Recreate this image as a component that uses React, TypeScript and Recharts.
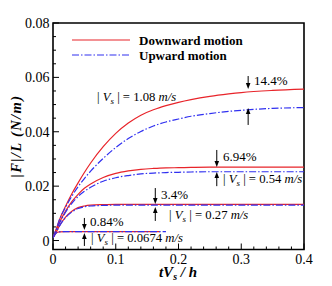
import React from "react";
import { LineChart, Line, XAxis, YAxis, ReferenceArea, ReferenceLine, ReferenceDot, Legend } from "recharts";

// ---- data ----
const tValues = [0, 0.005, 0.01, 0.02, 0.03, 0.04, 0.05, 0.06, 0.08, 0.1, 0.12, 0.14, 0.16, 0.17, 0.18, 0.2, 0.22, 0.25, 0.28, 0.3, 0.35, 0.4];
const down108 = [0.001, 0.004, 0.0075, 0.0126, 0.0172, 0.0212, 0.025, 0.0285, 0.0345, 0.0394, 0.0432, 0.0461, 0.0481, 0.0489, 0.0496, 0.0508, 0.0518, 0.053, 0.0539, 0.0544, 0.0552, 0.0557];
const up108 = [0.001, 0.004, 0.0075, 0.0122, 0.0163, 0.0198, 0.0228, 0.0255, 0.0302, 0.0342, 0.0375, 0.0401, 0.0421, 0.0429, 0.0436, 0.0447, 0.0457, 0.0467, 0.0475, 0.0479, 0.0486, 0.0489];
const down054 = [0.001, 0.004, 0.0065, 0.0108, 0.0143, 0.017, 0.0192, 0.0208, 0.0232, 0.0247, 0.0256, 0.0262, 0.0265, 0.0266, 0.0267, 0.0268, 0.0269, 0.027, 0.027, 0.027, 0.027, 0.027];
const up054 = [0.001, 0.004, 0.0063, 0.0104, 0.0137, 0.0162, 0.0181, 0.0196, 0.0218, 0.0231, 0.0239, 0.0245, 0.0248, 0.0249, 0.025, 0.0251, 0.0252, 0.0253, 0.0253, 0.0253, 0.0253, 0.0253];
const down027 = [0.001, 0.003, 0.0053, 0.0086, 0.0108, 0.0121, 0.0127, 0.013, 0.0132, 0.0133, 0.0133, 0.0133, 0.0133, 0.0133, 0.0133, 0.0133, 0.0133, 0.0133, 0.0133, 0.0133, 0.0133, 0.0133];
const up027 = [0.001, 0.003, 0.0052, 0.0084, 0.0105, 0.0118, 0.0124, 0.0127, 0.0129, 0.013, 0.013, 0.013, 0.013, 0.013, 0.013, 0.013, 0.013, 0.013, 0.013, 0.013, 0.013, 0.013];
const down0674 = [0.001, 0.0028, 0.0032, 0.0033, 0.0033, 0.0033, 0.0033, 0.0033, 0.0033, 0.0033, 0.0033, 0.0033, 0.0033, 0.0033, null, null, null, null, null, null, null, null];
const up0674 = [0.001, 0.0028, 0.0032, 0.0033, 0.0033, 0.0033, 0.0033, 0.0033, 0.0033, 0.0033, 0.0033, 0.0033, 0.0033, 0.0033, 0.0033, null, null, null, null, null, null, null];

const xMajorTicks = [0, 0.1, 0.2, 0.3, 0.4];
const xTickLabels = ["0", "0.1", "0.2", "0.3", "0.4"];
const xMinorTicks = [0.02, 0.04, 0.06, 0.08, 0.12, 0.14, 0.16, 0.18, 0.22, 0.24, 0.26, 0.28, 0.32, 0.34, 0.36, 0.38];
const yMajorTicks = [0, 0.02, 0.04, 0.06, 0.08];
const yTickLabels = ["0", "0.02", "0.04", "0.06", "0.08"];
const yMinorTicks = [0.005, 0.01, 0.015, 0.025, 0.03, 0.035, 0.045, 0.05, 0.055, 0.065, 0.07, 0.075];

const seriesNames = ["Downward motion", "Upward motion"];
const speedLabels = ["1.08", "0.54", "0.27", "0.0674"];
const percentLabels = ["14.4%", "6.94%", "3.4%", "0.84%"];

// annotation anchors (data coordinates)
const arrowT = [0.311, 0.261, 0.163, 0.05];
const arrowUpperTail = [0.0605, 0.0333, 0.0193, 0.0083];
const arrowUpperTip = [0.0557, 0.027, 0.0134, 0.0039];
const arrowLowerTail = [0.0425, 0.02, 0.0072, -0.002];
const arrowLowerTip = [0.0487, 0.0252, 0.0123, 0.0028];
const percentPos = [
  { t: 0.3203, v: 0.0572 },
  { t: 0.2709, v: 0.0292 },
  { t: 0.172, v: 0.0153 },
  { t: 0.059, v: 0.0053 },
];
const speedPos = [
  { t: 0.0701, v: 0.0513 },
  { t: 0.2709, v: 0.0211 },
  { t: 0.185, v: 0.0079 },
  { t: 0.0606, v: -0.0006 },
];

const table = tValues.map((t, i) => ({
  t,
  d108: down108[i],
  u108: up108[i],
  d054: down054[i],
  u054: up054[i],
  d027: down027[i],
  u027: up027[i],
  d0674: down0674[i],
  u0674: up0674[i],
}));

const RED = "#e8242a";
const BLUE = "#3030f0";
const DASH = "7 2 1.5 2";
const FONT = '"Liberation Serif", "Times New Roman", "DejaVu Serif", serif';
const serif = (extra: any = {}) => ({ fontFamily: FONT, ...extra });

const near = (a: number, b: number) => Math.abs(a - b) < 1e-9;

const XTick = (props: any) => {
  const { x, y, payload } = props;
  const idx = xMajorTicks.findIndex((m) => near(m, payload.value));
  const major = idx >= 0;
  return (
    <g>
      <line x1={x} x2={x} y1={y} y2={y - (major ? 6 : 3)} stroke="#000" strokeWidth={1} />
      {major && (
        <text x={x} y={y + 14} textAnchor="middle" style={serif({ fontSize: 14 })} fill="#000">
          {xTickLabels[idx]}
        </text>
      )}
    </g>
  );
};

const YTick = (props: any) => {
  const { x, y, payload } = props;
  const idx = yMajorTicks.findIndex((m) => near(m, payload.value));
  const major = idx >= 0;
  return (
    <g>
      <line x1={x} x2={x + (major ? 6 : 3)} y1={y} y2={y} stroke="#000" strokeWidth={1} />
      {major && (
        <text x={x - 3.5} y={y + 5} textAnchor="end" style={serif({ fontSize: 14 })} fill="#000">
          {yTickLabels[idx]}
        </text>
      )}
    </g>
  );
};

const ArrowShape = (p: any) => {
  const { x1, y1, x2, y2 } = p;
  const dir = y2 > y1 ? 1 : -1;
  const head = 6;
  const half = 2.3;
  return (
    <g>
      <line x1={x1} y1={y1} x2={x2} y2={y2 - dir * head * 0.6} stroke="#000" strokeWidth={1} />
      <polygon points={`${x2},${y2} ${x2 - half},${y2 - dir * head} ${x2 + half},${y2 - dir * head}`} fill="#000" />
    </g>
  );
};

const PercentText = (text: string) => (p: any) => (
  <text x={p.cx} y={p.cy} style={serif({ fontSize: 13 })} fill="#000">
    {text}
  </text>
);

const SpeedText = (value: string) => (p: any) => (
  <text x={p.cx} y={p.cy} style={serif({ fontSize: 12.7 })} fill="#000">
    <tspan>| </tspan>
    <tspan fontStyle="italic">V</tspan>
    <tspan fontStyle="italic" fontSize={9} dy={3}>s</tspan>
    <tspan dy={-3}> | = {value} </tspan>
    <tspan fontStyle="italic">m/s</tspan>
  </text>
);

const LegendContent = () => (
  <svg width={200} height={34} style={{ display: "block" }}>
    <line x1={0} x2={58} y1={8} y2={8} stroke={RED} strokeWidth={1.2} />
    <text x={67} y={12.5} style={serif({ fontSize: 13, fontWeight: "bold" })} fill="#000">{seriesNames[0]}</text>
    <line x1={0} x2={58} y1={23} y2={23} stroke={BLUE} strokeWidth={1.2} strokeDasharray={DASH} />
    <text x={67} y={27.5} style={serif({ fontSize: 13, fontWeight: "bold" })} fill="#000">{seriesNames[1]}</text>
  </svg>
);

const YLabel = () => {
  const cx = 13;
  const cy = 128;
  return (
    <text
      x={cx}
      y={cy}
      transform={`rotate(-90 ${cx} ${cy})`}
      textAnchor="middle"
      style={serif({ fontSize: 14.5, fontWeight: "bold", fontStyle: "italic", letterSpacing: 1.4 })}
      fill="#000"
    >
      |F|/L (N/m)
    </text>
  );
};

const XLabel = () => {
  const cx = 170;
  const cy = 269;
  return (
    <text x={cx} y={cy} textAnchor="middle" style={serif({ fontSize: 15, fontWeight: "bold", fontStyle: "italic" })} fill="#000">
      <tspan>tV</tspan>
      <tspan fontSize={10} dy={3}>s</tspan>
      <tspan dy={-3}> / h</tspan>
    </text>
  );
};

const xTicks = [...xMajorTicks, ...xMinorTicks].sort((a, b) => a - b);
const yTicks = [...yMajorTicks, ...yMinorTicks].sort((a, b) => a - b);

export default function App() {
  return (
    <div style={{ width: 324, height: 278, position: "relative", fontFamily: FONT }}>
      <LineChart width={324} height={278} data={table} margin={{ top: 15, right: 28, bottom: 8, left: 0 }}>
        <XAxis
          dataKey="t"
          type="number"
          domain={[0, 0.4]}
          ticks={xTicks}
          interval={0}
          tick={<XTick />}
          tickLine={false}
          axisLine={false}
          tickSize={0}
          tickMargin={0}
          height={28.5}
          label={<XLabel />}
          allowDataOverflow
        />
        <YAxis
          type="number"
          domain={[-0.0033, 0.08]}
          ticks={yTicks}
          interval={0}
          tick={<YTick />}
          tickLine={false}
          axisLine={false}
          tickSize={0}
          tickMargin={0}
          width={45}
          label={<YLabel />}
          allowDataOverflow
        />
        <ReferenceArea x1={0} x2={0.4} y1={-0.0033} y2={0.08} fill="none" stroke="#000" strokeWidth={1.6} ifOverflow="visible" />
        <Line dataKey="d108" stroke={RED} strokeWidth={1.2} dot={false} type="monotone" isAnimationActive={false} />
        <Line dataKey="u108" stroke={BLUE} strokeWidth={1.2} strokeDasharray={DASH} dot={false} type="monotone" isAnimationActive={false} />
        <Line dataKey="d054" stroke={RED} strokeWidth={1.2} dot={false} type="monotone" isAnimationActive={false} />
        <Line dataKey="u054" stroke={BLUE} strokeWidth={1.2} strokeDasharray={DASH} dot={false} type="monotone" isAnimationActive={false} />
        <Line dataKey="d027" stroke={RED} strokeWidth={1.2} dot={false} type="monotone" isAnimationActive={false} />
        <Line dataKey="u027" stroke={BLUE} strokeWidth={1.2} strokeDasharray={DASH} dot={false} type="monotone" isAnimationActive={false} />
        <Line dataKey="d0674" stroke={RED} strokeWidth={1.2} dot={false} type="monotone" isAnimationActive={false} />
        <Line dataKey="u0674" stroke={BLUE} strokeWidth={1.2} strokeDasharray={DASH} dot={false} type="monotone" isAnimationActive={false} />
        {arrowT.map((t, i) => (
          <ReferenceLine key={`au${i}`} segment={[{ x: t, y: arrowUpperTail[i] }, { x: t, y: arrowUpperTip[i] }]} shape={ArrowShape} ifOverflow="visible" />
        ))}
        {arrowT.map((t, i) => (
          <ReferenceLine key={`al${i}`} segment={[{ x: t, y: arrowLowerTail[i] }, { x: t, y: arrowLowerTip[i] }]} shape={ArrowShape} ifOverflow="visible" />
        ))}
        {percentPos.map((p, i) => (
          <ReferenceDot key={`p${i}`} x={p.t} y={p.v} r={0} shape={PercentText(percentLabels[i])} ifOverflow="visible" />
        ))}
        {speedPos.map((p, i) => (
          <ReferenceDot key={`s${i}`} x={p.t} y={p.v} r={0} shape={SpeedText(speedLabels[i])} ifOverflow="visible" />
        ))}
        <Legend
          layout="vertical"
          verticalAlign="middle"
          align="center"
          content={<LegendContent />}
          wrapperStyle={{ left: 64, top: 24, width: 200, height: 34 }}
        />
      </LineChart>
    </div>
  );
}
